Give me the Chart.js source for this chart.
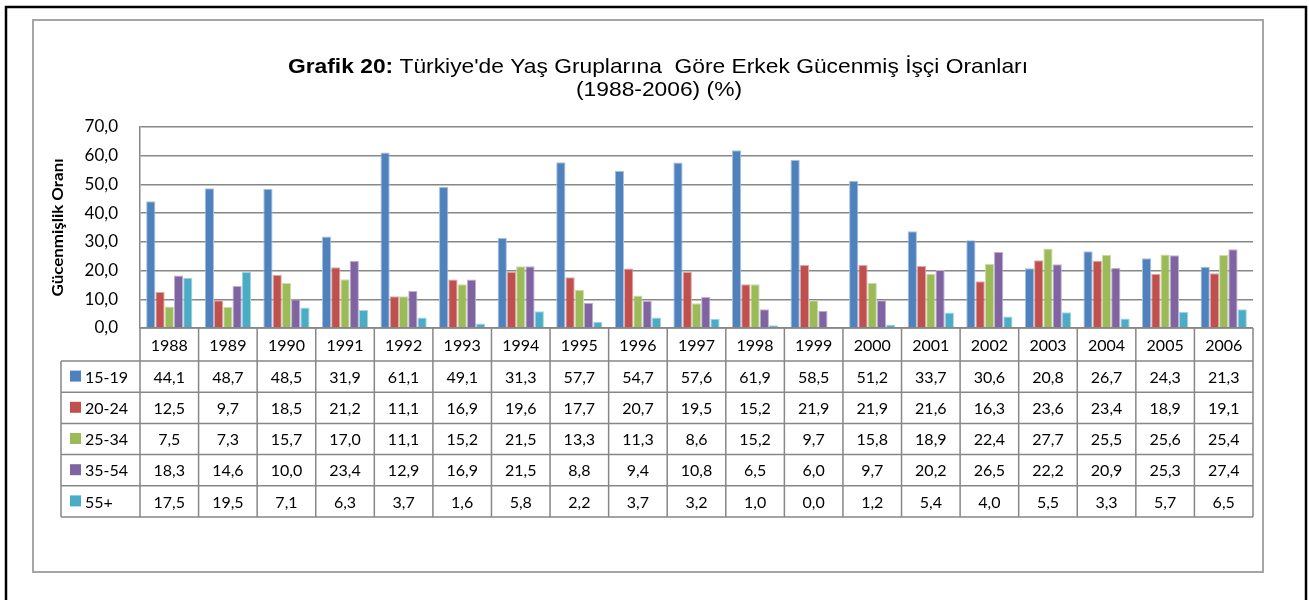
<!DOCTYPE html>
<html>
<head>
<meta charset="utf-8">
<script src="https://cdn.jsdelivr.net/npm/chart.js@4"></script>
<style>
  html, body { margin: 0; padding: 0; background: #fff; }
  canvas { display: block; }
</style>
</head>
<body>
<canvas id="chart" width="1309" height="600"></canvas>
<script>
const years = ['1988','1989','1990','1991','1992','1993','1994','1995','1996','1997',
  '1998','1999','2000','2001','2002','2003','2004','2005','2006'];
const groupNames = ['15-19', '20-24', '25-34', '35-54', '55+'];
const g15_19 = [44.1,48.7,48.5,31.9,61.1,49.1,31.3,57.7,54.7,57.6,61.9,58.5,51.2,33.7,30.6,20.8,26.7,24.3,21.3];
const g20_24 = [12.5,9.7,18.5,21.2,11.1,16.9,19.6,17.7,20.7,19.5,15.2,21.9,21.9,21.6,16.3,23.6,23.4,18.9,19.1];
const g25_34 = [7.5,7.3,15.7,17.0,11.1,15.2,21.5,13.3,11.3,8.6,15.2,9.7,15.8,18.9,22.4,27.7,25.5,25.6,25.4];
const g35_54 = [18.3,14.6,10.0,23.4,12.9,16.9,21.5,8.8,9.4,10.8,6.5,6.0,9.7,20.2,26.5,22.2,20.9,25.3,27.4];
const g55plus = [17.5,19.5,7.1,6.3,3.7,1.6,5.8,2.2,3.7,3.2,1.0,0.0,1.2,5.4,4.0,5.5,3.3,5.7,6.5];
const colors = ['#4F81BD', '#C0504D', '#9BBB59', '#8064A2', '#4BACC6'];
const edges = ['#A7C0DE', '#DFA8A6', '#CDDDAC', '#BFB1D0', '#A5D5E2'];

const titleBold = 'Grafik 20:';
const titleRest = " Türkiye'de Yaş Gruplarına  Göre Erkek Gücenmiş İşçi Oranları";
const titleLine2 = '(1988-2006) (%)';
const yTitle = 'Gücenmişlik Oranı';

const fmt = v => v.toFixed(1).replace('.', ',');
const seriesList = [g15_19, g20_24, g25_34, g35_54, g55plus];
const GRID = '#878787';
const UI_FONT = 'Lato, "Open Sans", sans-serif';

// frame, title and y-axis title
const framePlugin = {
  id: 'frame',
  beforeDraw(chart) {
    const ctx = chart.ctx;
    ctx.save();
    ctx.fillStyle = '#fff';
    ctx.fillRect(0, 0, chart.width, chart.height);
    ctx.strokeStyle = '#a6a6a6';
    ctx.lineWidth = 2;
    ctx.strokeRect(33, 20, 1230, 552);
    ctx.strokeStyle = '#000';
    ctx.lineWidth = 2.5;
    ctx.strokeRect(6, 7, 1300, 600);

    // title line 1 (bold part + regular part), squeezed to the reference width
    ctx.fillStyle = '#000';
    ctx.textBaseline = 'alphabetic';
    ctx.textAlign = 'left';
    const boldFont = 'bold 21px "Liberation Sans Narrow", "Liberation Sans", Arial, sans-serif';
    const normFont = '21px "Liberation Sans Narrow", "Liberation Sans", Arial, sans-serif';
    ctx.font = boldFont;
    const wb = ctx.measureText(titleBold).width;
    ctx.font = normFont;
    const wr = ctx.measureText(titleRest).width;
    const sx = 740 / (wb + wr);
    ctx.save();
    ctx.translate(288, 73);
    ctx.scale(sx, 1);
    ctx.font = boldFont;
    ctx.fillText(titleBold, 0, 0);
    ctx.font = normFont;
    ctx.fillText(titleRest, wb, 0);
    ctx.restore();

    ctx.save();
    ctx.translate(659, 96);
    ctx.scale(sx, 1);
    ctx.font = normFont;
    ctx.textAlign = 'center';
    ctx.fillText(titleLine2, 0, 0);
    ctx.restore();

    // y axis title
    const ca = chart.chartArea;
    ctx.save();
    ctx.translate(63, (ca.top + ca.bottom) / 2);
    ctx.rotate(-Math.PI / 2);
    ctx.font = 'bold 15px ' + UI_FONT;
    ctx.textAlign = 'center';
    const wy = ctx.measureText(yTitle).width;
    ctx.scale(138 / wy, 1);
    ctx.fillText(yTitle, 0, 0);
    ctx.restore();
    ctx.restore();
  }
};

// data table under the plot
const tablePlugin = {
  id: 'dataTable',
  afterDraw(chart) {
    const ctx = chart.ctx;
    const x = chart.scales.x;
    const ca = chart.chartArea;
    const colW = (ca.right - ca.left) / years.length;
    const top = ca.bottom;
    const headH = 33;
    const rowH = 31.2;
    const rowsTop = top + headH;
    const bottom = rowsTop + rowH * seriesList.length;
    const legLeft = 61;

    ctx.save();
    ctx.strokeStyle = GRID;
    ctx.lineWidth = 1.5;
    ctx.beginPath();
    // horizontal lines
    ctx.moveTo(ca.left, top); ctx.lineTo(ca.right, top);
    for (let r = 0; r <= seriesList.length; r++) {
      const y = rowsTop + r * rowH;
      ctx.moveTo(legLeft, y); ctx.lineTo(ca.right, y);
    }
    // vertical lines
    for (let i = 0; i <= years.length; i++) {
      const xx = ca.left + i * colW;
      ctx.moveTo(xx, top); ctx.lineTo(xx, bottom);
    }
    ctx.moveTo(legLeft, rowsTop); ctx.lineTo(legLeft, bottom);
    ctx.stroke();

    ctx.fillStyle = '#000';
    ctx.font = '16px ' + UI_FONT;
    ctx.textBaseline = 'middle';
    ctx.textAlign = 'center';
    years.forEach((yr, i) => {
      ctx.fillText(yr, x.getPixelForValue(i), top + headH / 2 + 1);
    });
    seriesList.forEach((vals, r) => {
      const cy = rowsTop + r * rowH + rowH / 2 + 1;
      vals.forEach((v, i) => {
        ctx.fillText(fmt(v), x.getPixelForValue(i), cy);
      });
    });

    // legend keys
    ctx.textAlign = 'left';
    groupNames.forEach((name, r) => {
      const cy = rowsTop + r * rowH + rowH / 2;
      ctx.fillStyle = colors[r];
      ctx.fillRect(70, cy - 6, 11, 11);
      ctx.fillStyle = '#000';
      ctx.fillText(name, 85, cy + 1);
    });
    ctx.restore();
  }
};

new Chart(document.getElementById('chart'), {
  type: 'bar',
  data: {
    labels: years,
    datasets: seriesList.map((vals, i) => ({
      label: groupNames[i],
      data: vals,
      backgroundColor: colors[i],
      borderColor: edges[i],
      borderWidth: 1,
      borderSkipped: 'bottom',
      categoryPercentage: 0.79,
      barPercentage: 1.0
    }))
  },
  options: {
    responsive: false,
    animation: false,
    layout: { padding: { top: 127, right: 56, bottom: 0, left: 0 } },
    plugins: {
      legend: { display: false },
      title: { display: false },
      tooltip: { enabled: false }
    },
    scales: {
      x: {
        display: true,
        ticks: { display: false },
        grid: { display: false },
        border: { display: false },
        afterFit: s => { s.height = 272; }
      },
      y: {
        min: 0,
        max: 70,
        ticks: {
          stepSize: 10,
          padding: 22,
          color: '#000',
          font: { family: UI_FONT, size: 17 },
          callback: v => fmt(v)
        },
        grid: { color: GRID, lineWidth: 1.5, drawTicks: false },
        border: { color: GRID, width: 1.5 },
        afterFit: s => { s.width = 140; }
      }
    }
  },
  plugins: [framePlugin, tablePlugin]
});
</script>
</body>
</html>
